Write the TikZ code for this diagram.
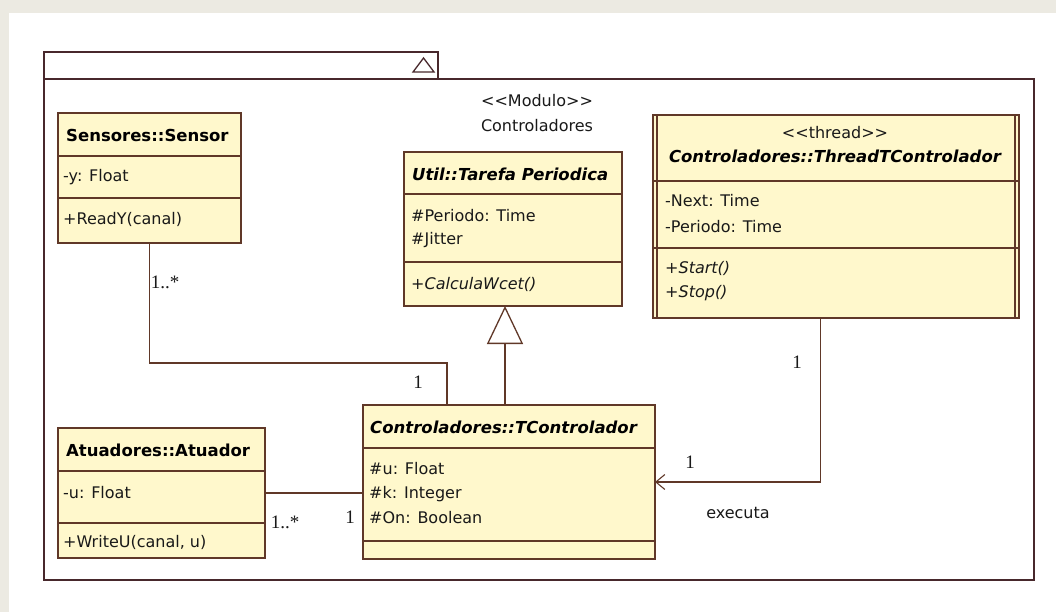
\documentclass[tikz,border=0pt]{standalone}
\usepackage{fontspec}
\setmainfont{DejaVu Sans}
\newfontfamily\multfont{Liberation Serif}
\usetikzlibrary{arrows.meta}
\definecolor{pagegray}{RGB}{236,234,226}
\definecolor{classfill}{RGB}{255,248,204}
\definecolor{classline}{RGB}{96,56,40}
\definecolor{pkgline}{RGB}{72,40,44}
\newcommand{\stereotype}[1]{{<}{<}#1{>}{>}}
\begin{document}
\begin{tikzpicture}[x=1pt,y=-1pt,
  classbox/.style={draw=classline, fill=classfill, line width=1.6pt, rectangle,
    anchor=north west, inner sep=0pt, outer sep=0pt},
  title/.style={font=\fontsize{16.5}{18}\selectfont\bfseries, inner sep=0pt, text=black},
  atitle/.style={font=\fontsize{16.5}{18}\selectfont\bfseries\itshape, inner sep=0pt, text=black},
  member/.style={font=\fontsize{16}{18}\selectfont, inner sep=0pt, anchor=west, text=black!90},
  imember/.style={member, font=\fontsize{16}{18}\selectfont\itshape},
  plain/.style={font=\fontsize{16}{18}\selectfont, inner sep=0pt, text=black!90},
  mult/.style={font=\fontsize{19}{20}\selectfont\multfont, inner sep=0pt, text=black!90},
  conn/.style={draw=classline, line width=1.6pt},
  divider/.style={draw=classline, line width=1.6pt}]
% page and white sheet
\fill[pagegray] (0,0) rectangle (1056,612);
\fill[white] (9,13) rectangle (1056,612);
\useasboundingbox (0,0) rectangle (1056,612);

% package frame with its tab
\draw[pkgline, line width=1.6pt] (44,79) rectangle (1034,580);
\draw[pkgline, line width=1.6pt] (44,79) -- (44,52) -- (438,52) -- (438,79);
\draw[pkgline, line width=1.3pt] (413,72) -- (434,72) -- (423.5,58) -- cycle;
\node[plain] (stereo) at (537,101) {\stereotype{Modulo}};
\node[plain] (pkgname) at (537,126) {Controladores};

% Sensores::Sensor
\node[classbox, minimum width=183pt, minimum height=130pt] (sensor) at (58,113) {};
\draw[divider] ([yshift=-43pt]sensor.north west) -- ([yshift=-43pt]sensor.north east);
\draw[divider] ([yshift=-85pt]sensor.north west) -- ([yshift=-85pt]sensor.north east);
\node[title, anchor=west] (sensorT) at (66,135) {Sensores::Sensor};
\node[member] (sensorA) at (63,177) {-y: Float};
\node[member] (sensorO) at (63,219) {+ReadY(canal)};

% Util::Tarefa Periodica
\node[classbox, minimum width=218pt, minimum height=154pt] (tarefa) at (404,152) {};
\draw[divider] ([yshift=-42pt]tarefa.north west) -- ([yshift=-42pt]tarefa.north east);
\draw[divider] ([yshift=-110pt]tarefa.north west) -- ([yshift=-110pt]tarefa.north east);
\node[atitle, anchor=west] (tarefaT) at (412,174) {Util::Tarefa Periodica};
\node[member] (tarefaA1) at (411,216) {\#Periodo: Time};
\node[member] (tarefaA2) at (411,240) {\#Jitter};
\node[imember] (tarefaO) at (411,284) {+CalculaWcet()};

% <<thread>> Controladores::ThreadTControlador
\node[classbox, minimum width=366pt, minimum height=203pt] (thread) at (653,115) {};
\draw[divider] ([xshift=4pt]thread.north west) -- ([xshift=4pt]thread.south west);
\draw[divider] ([xshift=-4pt]thread.north east) -- ([xshift=-4pt]thread.south east);
\draw[divider] ([yshift=-66pt]thread.north west) -- ([yshift=-66pt]thread.north east);
\draw[divider] ([yshift=-133pt]thread.north west) -- ([yshift=-133pt]thread.north east);
\node[plain] (threadS) at (835,133) {\stereotype{thread}};
\node[atitle] (threadT) at (835,156) {Controladores::ThreadTControlador};
\node[member] (threadA1) at (665,201) {-Next: Time};
\node[member] (threadA2) at (665,227) {-Periodo: Time};
\node[imember] (threadO1) at (665,268) {+Start()};
\node[imember] (threadO2) at (665,293) {+Stop()};

% Controladores::TControlador
\node[classbox, minimum width=292pt, minimum height=154pt] (tctrl) at (363,405) {};
\draw[divider] ([yshift=-43pt]tctrl.north west) -- ([yshift=-43pt]tctrl.north east);
\draw[divider] ([yshift=-136pt]tctrl.north west) -- ([yshift=-136pt]tctrl.north east);
\node[atitle, anchor=west] (tctrlT) at (370,427) {Controladores::TControlador};
\node[member] (tctrlA1) at (369,469) {\#u: Float};
\node[member] (tctrlA2) at (369,494) {\#k: Integer};
\node[member] (tctrlA3) at (369,518) {\#On: Boolean};

% Atuadores::Atuador
\node[classbox, minimum width=207pt, minimum height=130pt] (atuador) at (58,428) {};
\draw[divider] ([yshift=-43pt]atuador.north west) -- ([yshift=-43pt]atuador.north east);
\draw[divider] ([yshift=-95pt]atuador.north west) -- ([yshift=-95pt]atuador.north east);
\node[title, anchor=west] (atuadorT) at (66,450) {Atuadores::Atuador};
\node[member] (atuadorA) at (63,493) {-u: Float};
\node[member] (atuadorO) at (63,542) {+WriteU(canal, u)};

% Sensor -- TControlador association
\draw[conn] (sensor.south) |- ([xshift=-62pt,yshift=42pt]tctrl.north) -- ([xshift=-62pt]tctrl.north);
\node[mult] (mSensor) at (165,282) {1..*};
\node[mult] (mSensorC) at (418,382) {1};

% TControlador specialises Tarefa Periodica
\draw[conn, -{Triangle[open, length=38pt, width=36pt, line width=1.3pt]}]
  ([xshift=-4pt]tctrl.north) -- ([xshift=-8pt]tarefa.south);

% Atuador -- TControlador association
\draw[conn] (atuador.east) -- (atuador.east -| tctrl.west);
\node[mult] (mAtuador) at (285,522) {1..*};
\node[mult] (mAtuadorC) at (350,517) {1};

% ThreadTControlador executes TControlador
\draw[conn, -{Straight Barb[length=9pt, width=15pt, line width=1.1pt]}]
  ([xshift=-15.5pt]thread.south) |- (tctrl.east);
\node[mult] (mThread) at (797,362) {1};
\node[mult] (mThreadC) at (690,462) {1};
\node[plain] (executa) at (738,513) {executa};
\end{tikzpicture}
\end{document}
